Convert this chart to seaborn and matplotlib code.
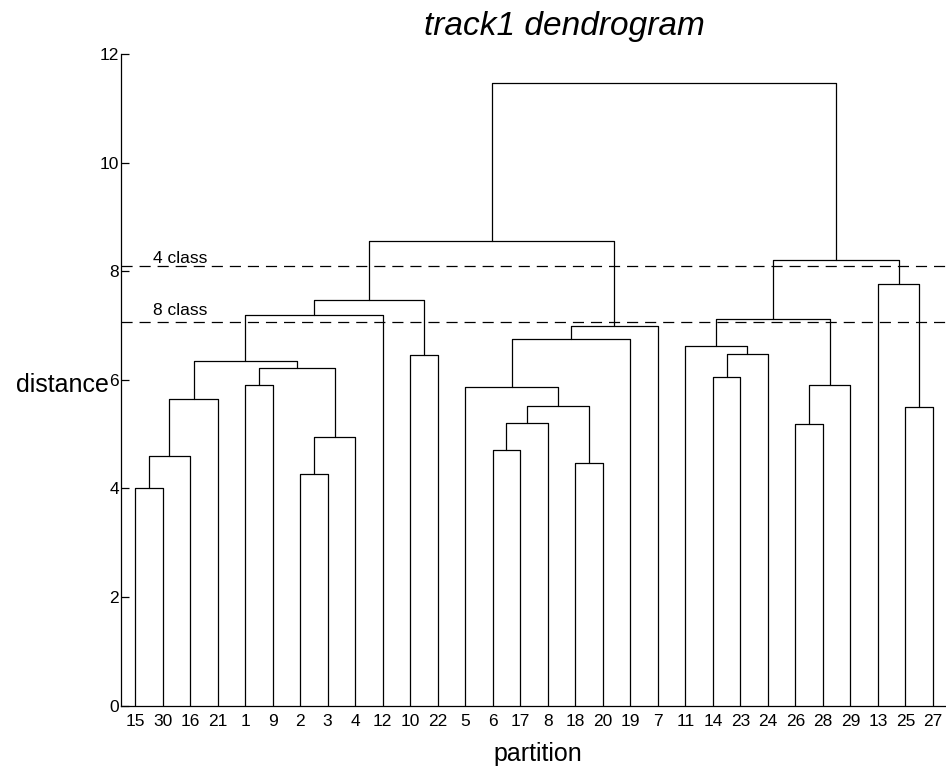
import matplotlib
matplotlib.use("Agg")
import matplotlib.pyplot as plt
import seaborn as sns
import pandas as pd

# leaf order along the x axis
leaf_labels = [15, 30, 16, 21, 1, 9, 2, 3, 4, 12, 10, 22, 5, 6, 17, 8, 18, 20,
               19, 7, 11, 14, 23, 24, 26, 28, 29, 13, 25, 27]

# merges: children are leaf labels (int) or earlier merges ('m<i>')
left_child = [15, 'm0', 'm1', 1, 2, 'm4', 'm3', 'm2', 'm7', 10, 'm8', 6, 'm11',
              18, 'm12', 5, 'm15', 'm16', 'm10', 14, 'm19', 11, 26, 'm22',
              'm21', 25, 13, 'm24', 'm18']
right_child = [30, 16, 21, 9, 3, 4, 'm5', 'm6', 12, 22, 'm9', 17, 8, 20, 'm13',
               'm14', 19, 7, 'm17', 23, 24, 'm20', 28, 29, 'm23', 27, 'm25',
               'm26', 'm27']
merge_height = [4.00, 4.60, 5.64, 5.90, 4.27, 4.94, 6.21, 6.35, 7.20, 6.45,
                7.47, 4.71, 5.20, 4.47, 5.51, 5.86, 6.76, 7.00, 8.56, 6.05,
                6.47, 6.63, 5.18, 5.91, 7.12, 5.50, 7.76, 8.20, 11.47]

cut_levels = [8.10, 7.07]
cut_names = ['4 class', '8 class']

# node positions (x = leaf slot, children averaged like matlab)
pos = {lab: (i + 1, 0.0) for i, lab in enumerate(leaf_labels)}
rows = []
for i, (a, b, h) in enumerate(zip(left_child, right_child, merge_height)):
    xa, ya = pos[a]
    xb, yb = pos[b]
    for x, y in [(xa, ya), (xa, h), (xb, h), (xb, yb)]:
        rows.append({'link': i, 'x': x, 'y': y})
    pos['m%d' % i] = ((xa + xb) / 2, h)
links = pd.DataFrame(rows)

sns.set_style('ticks')
plt.rcParams['font.family'] = ['Liberation Sans', 'DejaVu Sans']
plt.rcParams['lines.scale_dashes'] = False
plt.rcParams['text.color'] = 'black'
plt.rcParams['axes.labelcolor'] = 'black'
plt.rcParams['xtick.color'] = 'black'
plt.rcParams['ytick.color'] = 'black'

W, H = 946, 770
fig = plt.figure(figsize=(W / 100, H / 100), dpi=100)
x0, x1, ytop, ybot = 121.3, 946.7, 54.0, 705.7
ax = fig.add_axes([x0 / W, 1 - ybot / H, (x1 - x0) / W, (ybot - ytop) / H])

sns.lineplot(data=links, x='x', y='y', units='link', estimator=None, sort=False,
             color='black', lw=0.9, ax=ax, legend=False)

for lvl, name in zip(cut_levels, cut_names):
    ax.axhline(lvl, color='black', lw=0.9, dashes=(8, 5))
ax.text(1.66, cut_levels[0] + 0.06, cut_names[0], fontsize=12.5, va='baseline')
ax.text(1.66, cut_levels[1] + 0.13, cut_names[1], fontsize=12.5, va='baseline')

ax.set_xlim(0.5, 30.5)
ax.set_ylim(0, 12)
ax.set_xticks(range(1, len(leaf_labels) + 1))
ax.set_xticklabels(leaf_labels)
ax.set_yticks([0, 2, 4, 6, 8, 10, 12])
ax.tick_params(axis='x', length=0, pad=6, labelsize=12.5)
ax.tick_params(axis='y', direction='in', length=5.5, width=0.9, pad=1.5,
               labelsize=12.5)
sns.despine(ax=ax)
for s in ['left', 'bottom']:
    ax.spines[s].set_linewidth(0.9)
    ax.spines[s].set_color('black')

ax.set_xlabel('partition', fontsize=18, va='baseline')
ax.xaxis.set_label_coords((538 - x0) / (x1 - x0), (ybot - 761) / (ybot - ytop))
ax.set_ylabel('distance', fontsize=18, rotation=0, ha='right', va='baseline')
ax.yaxis.set_label_coords((109 - x0) / (x1 - x0), (ybot - 391.7) / (ybot - ytop))
ax.set_title('track1 dendrogram', fontsize=24, fontstyle='italic',
             x=(564.5 - x0) / (x1 - x0), y=(ybot - 35) / (ybot - ytop),
             va='baseline', pad=0)

fig.savefig('out.png', dpi=100)
